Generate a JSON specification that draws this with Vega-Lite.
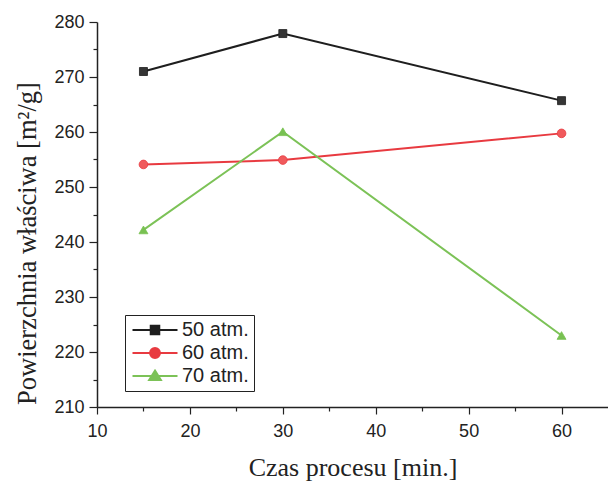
{
  "$schema": "https://vega.github.io/schema/vega-lite/v6.json",
  "width": 511,
  "height": 385,
  "autosize": {"type": "none"},
  "padding": {"left": 97, "top": 22, "right": 0, "bottom": 75},
  "background": "white",
  "config": {"view": {"stroke": null}},
  "data": {
    "values": [
      {"series": "50 atm.", "czas": 15, "value": 271.0},
      {"series": "50 atm.", "czas": 30, "value": 277.9},
      {"series": "50 atm.", "czas": 60, "value": 265.7},
      {"series": "60 atm.", "czas": 15, "value": 254.1},
      {"series": "60 atm.", "czas": 30, "value": 254.9},
      {"series": "60 atm.", "czas": 60, "value": 259.75},
      {"series": "70 atm.", "czas": 15, "value": 242.2},
      {"series": "70 atm.", "czas": 30, "value": 260.05},
      {"series": "70 atm.", "czas": 60, "value": 223.0}
    ]
  },
  "encoding": {
    "x": {
      "field": "czas",
      "type": "quantitative",
      "scale": {"domain": [10, 65], "nice": false, "zero": false},
      "axis": {
        "values": [10, 15, 20, 25, 30, 35, 40, 45, 50, 55, 60],
        "labelExpr": "datum.value % 10 === 0 ? datum.label : ''",
        "grid": false,
        "domainColor": "#222222",
        "domainWidth": 1.5,
        "tickColor": "#222222",
        "tickWidth": 1.2,
        "tickSize": {"condition": {"test": "datum.value % 10 === 0", "value": 7}, "value": 4},
        "labelFont": "Liberation Sans",
        "labelFontSize": 18,
        "labelColor": "#222222",
        "labelPadding": 8,
        "labelFlush": false,
        "labelOverlap": false,
        "title": "Czas procesu [min.]",
        "titleFont": "Liberation Serif",
        "titleFontSize": 26,
        "titleFontWeight": "normal",
        "titleColor": "#222222",
        "titleBaseline": "alphabetic",
        "titleY": 68
      }
    },
    "y": {
      "field": "value",
      "type": "quantitative",
      "scale": {"domain": [210, 280], "nice": false, "zero": false},
      "axis": {
        "values": [210, 215, 220, 225, 230, 235, 240, 245, 250, 255, 260, 265, 270, 275, 280],
        "labelExpr": "datum.value % 10 === 0 ? datum.label : ''",
        "grid": false,
        "domainColor": "#222222",
        "domainWidth": 1.5,
        "tickColor": "#222222",
        "tickWidth": 1.2,
        "tickSize": {"condition": {"test": "datum.value % 10 === 0", "value": 8}, "value": 4},
        "labelFont": "Liberation Sans",
        "labelFontSize": 18,
        "labelColor": "#222222",
        "labelPadding": 5,
        "labelFlush": false,
        "labelOverlap": false,
        "title": "Powierzchnia właściwa [m²/g]",
        "titleFont": "Liberation Serif",
        "titleFontSize": 26.5,
        "titleFontWeight": "normal",
        "titleColor": "#222222",
        "titleAngle": -90,
        "titleBaseline": "middle",
        "titleAlign": "center",
        "titleX": -70,
        "titleY": 221
      }
    },
    "color": {
      "field": "series",
      "type": "nominal",
      "scale": {"domain": ["50 atm.", "60 atm.", "70 atm."], "range": ["#1e1e1e", "#e83a40", "#7cc257"]},
      "legend": {
        "title": null,
        "orient": "none",
        "legendX": 28,
        "legendY": 293,
        "direction": "vertical",
        "labelFont": "Liberation Sans",
        "labelFontSize": 20,
        "labelColor": "#222222",
        "symbolSize": 81,
        "symbolStrokeWidth": 2,
        "symbolOpacity": 1,
        "symbolOffset": 15,
        "labelOffset": 17,
        "padding": 5,
        "rowPadding": 3,
        "strokeColor": "#222222",
        "fillColor": "white",
        "encode": {
          "symbols": {
            "update": {
              "shape": {"signal": "datum.value === '50 atm.' ? 'M-5,0H5M-0.95,-0.95H0.95V0.95H-0.95Z' : datum.value === '60 atm.' ? 'M-5,0H5M-1.1,0A1.1,1.1,0,1,1,1.1,0A1.1,1.1,0,1,1,-1.1,0Z' : 'M-5,0H5M0,-1.2L1.3,0.9H-1.3Z'"},
              "fill": {"signal": "datum.value === '50 atm.' ? '#353535' : datum.value === '60 atm.' ? '#f05a5c' : '#78c152'"},
              "stroke": {"scale": "color", "field": "value"},
              "strokeWidth": {"value": 2},
              "opacity": {"value": 1}
            }
          }
        }
      }
    }
  },
  "layer": [
    {"mark": {"type": "line", "strokeWidth": 2}},
    {
      "transform": [{"filter": "datum.series === '50 atm.'"}],
      "mark": {"type": "point", "filled": true, "opacity": 1, "size": 64, "shape": "square", "fill": "#353535", "stroke": "#1e1e1e", "strokeWidth": 0.8}
    },
    {
      "transform": [{"filter": "datum.series === '60 atm.'"}],
      "mark": {"type": "point", "filled": true, "opacity": 1, "size": 75, "shape": "circle", "fill": "#f05a5c", "stroke": "#e83a40", "strokeWidth": 0.8}
    },
    {
      "transform": [{"filter": "datum.series === '70 atm.'"}],
      "mark": {"type": "point", "filled": true, "opacity": 1, "size": 80, "shape": "triangle-up", "fill": "#78c152", "stroke": "#78c152", "strokeWidth": 0.8}
    }
  ]
}
